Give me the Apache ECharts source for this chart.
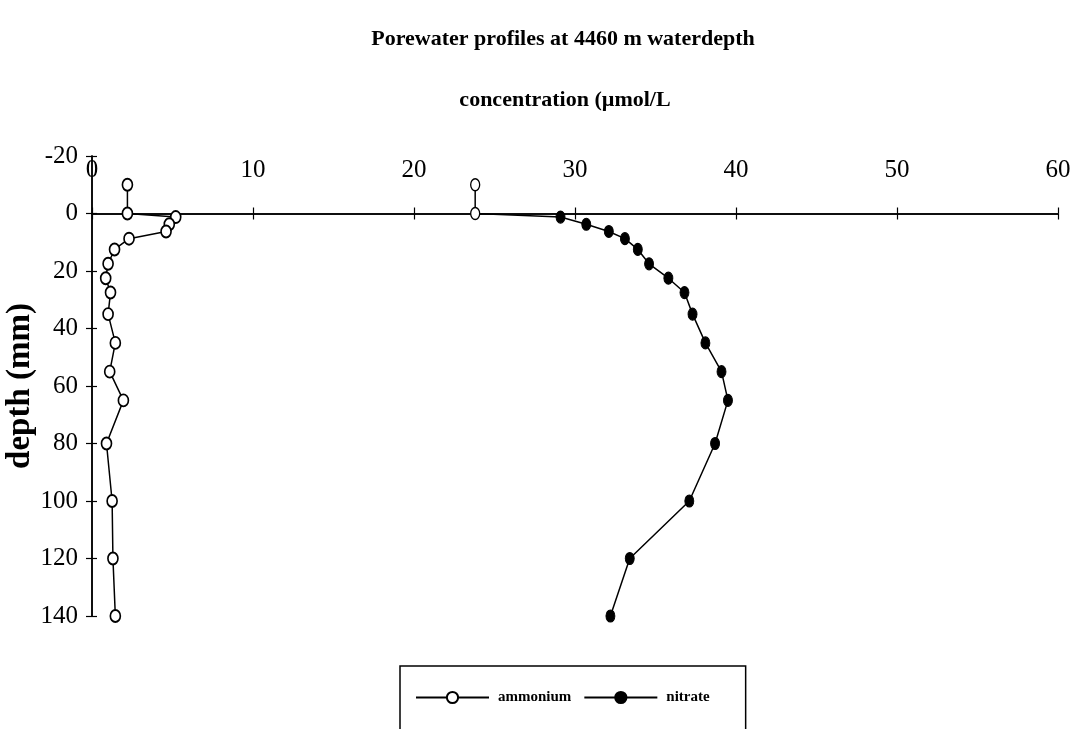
<!DOCTYPE html>
<html>
<head>
<meta charset="utf-8">
<script src="https://cdn.jsdelivr.net/npm/echarts@6/dist/echarts.min.js"></script>
<style>
  html, body { margin: 0; padding: 0; background: #fff; }
  #chart { width: 1080px; height: 729px; }
</style>
</head>
<body>
<div id="chart"></div>
<script>
// Sediment depth (mm) of each porewater sample; negative = overlying water
const depth = [-10, 0, 1.25, 3.75, 6.25, 8.75, 12.5, 17.5, 22.5, 27.5, 35, 45, 55, 65, 80, 100, 120, 140];
// Concentrations in µmol/L
const ammonium = [2.2, 2.2, 5.2, 4.8, 4.6, 2.3, 1.4, 1.0, 0.85, 1.15, 1.0, 1.45, 1.1, 1.95, 0.9, 1.25, 1.3, 1.45];
const nitrate = [23.8, 23.8, 29.1, 30.7, 32.1, 33.1, 33.9, 34.6, 35.8, 36.8, 37.3, 38.1, 39.1, 39.5, 38.7, 37.1, 33.4, 32.2];
// Axis ranges
const concRange = { min: 0, max: 60, interval: 10 };
const depthRange = { min: -20, max: 140, interval: 20 };

const serif = 'Liberation Serif';

const pairs = (vals) => vals.map((v, i) => [v, depth[i]]);
// Water-column nitrate samples are drawn as open circles
const nitrateData = nitrate.map((v, i) => depth[i] <= 0
  ? { value: [v, depth[i]], itemStyle: { color: '#fff', borderColor: '#000', borderWidth: 1.5 } }
  : [v, depth[i]]);

const chart = echarts.init(document.getElementById('chart'), null, { renderer: 'canvas' });

const xBase = {
  type: 'value', min: concRange.min, max: concRange.max, interval: concRange.interval,
  splitLine: { show: false },
  axisLine: { onZero: true, lineStyle: { color: '#000', width: 1.5 } }
};
const yBase = {
  type: 'value', inverse: true, min: depthRange.min, max: depthRange.max, interval: depthRange.interval,
  splitLine: { show: false },
  axisLine: { onZero: true, lineStyle: { color: '#000', width: 1.5 } }
};

chart.setOption({
  backgroundColor: '#fff',
  animation: false,
  title: [
    { text: 'Porewater profiles at 4460 m waterdepth', left: 558, top: 23, textAlign: 'center',
      textStyle: { fontFamily: serif, fontSize: 22, fontWeight: 'bold', color: '#000' } },
    { text: 'concentration (µmol/L', left: 560, top: 84, textAlign: 'center',
      textStyle: { fontFamily: serif, fontSize: 22, fontWeight: 'bold', color: '#000' } }
  ],
  grid: { left: 92, right: 22, top: 156, bottom: 113, containLabel: false, outerBoundsMode: 'none' },
  xAxis: [
    Object.assign({}, xBase, {
      position: 'top',
      axisTick: { show: true, length: 6, lineStyle: { color: '#000', width: 1.2 } },
      axisLabel: { inside: true, margin: 2, fontFamily: serif, fontSize: 25, color: '#000' }
    }),
    Object.assign({}, xBase, {
      position: 'bottom',
      axisTick: { show: true, length: 6, lineStyle: { color: '#000', width: 1.2 } },
      axisLabel: { show: false }
    })
  ],
  yAxis: [
    Object.assign({}, yBase, {
      position: 'left',
      name: 'depth (mm)', nameLocation: 'middle', nameGap: 55, nameRotate: 90,
      nameMoveOverlap: false,
      nameTextStyle: { fontFamily: serif, fontSize: 33, fontWeight: 'bold', color: '#000' },
      axisTick: { show: true, length: 6, lineStyle: { color: '#000', width: 1.2 } },
      axisLabel: { margin: 14, fontFamily: serif, fontSize: 25, color: '#000' }
    }),
    Object.assign({}, yBase, {
      position: 'right',
      axisTick: { show: true, length: 5, lineStyle: { color: '#000', width: 1.2 } },
      axisLabel: { show: false }
    })
  ],
  legend: {
    left: 400, top: 666,
    data: ['ammonium', 'nitrate'],
    itemWidth: 73, itemHeight: 14, itemGap: 12,
    padding: [24, 36, 60, 15],
    borderColor: '#000', borderWidth: 1.5,
    textStyle: { fontFamily: serif, fontSize: 15, fontWeight: 'bold', color: '#000', padding: [0, 0, 0, 4] }
  },
  series: [
    {
      name: 'ammonium', type: 'line', xAxisIndex: 0, yAxisIndex: 0,
      data: pairs(ammonium),
      symbol: 'circle', symbolSize: [10, 12], showSymbol: true,
      lineStyle: { color: '#000', width: 1.5 },
      itemStyle: { color: '#fff', borderColor: '#000', borderWidth: 1.8 },
      emphasis: { disabled: true }
    },
    {
      name: 'nitrate', type: 'line', xAxisIndex: 0, yAxisIndex: 0,
      data: nitrateData,
      symbol: 'circle', symbolSize: [9, 12], showSymbol: true,
      lineStyle: { color: '#000', width: 1.5 },
      itemStyle: { color: '#000', borderColor: '#000', borderWidth: 1 },
      emphasis: { disabled: true }
    }
  ]
});
</script>
</body>
</html>
